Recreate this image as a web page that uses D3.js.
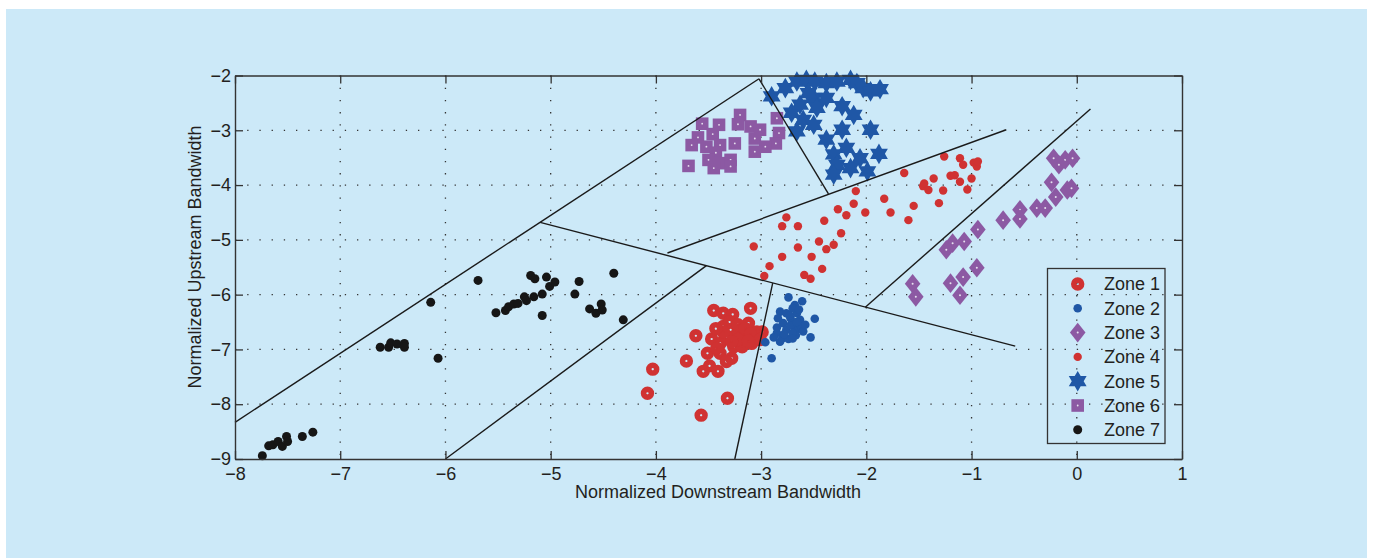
<!DOCTYPE html>
<html><head><meta charset="utf-8">
<script src="https://cdn.jsdelivr.net/npm/d3@7"></script>
<style>
html,body{margin:0;padding:0;background:#fff;}
svg{display:block;font-family:"Liberation Sans",Arial,Helvetica,sans-serif;}
</style>
</head><body>
<svg id="chart" width="1374" height="558"></svg>
<script>
// ---------- data ----------
const xTicks = [-8,-7,-6,-5,-4,-3,-2,-1,0,1];
const yTicks = [-9,-8,-7,-6,-5,-4,-3,-2];
const xLabel = "Normalized Downstream Bandwidth";
const yLabel = "Normalized Upstream Bandwidth";
const zoneNames = ["Zone 1","Zone 2","Zone 3","Zone 4","Zone 5","Zone 6","Zone 7"];

const zone1 = [[-3.45,-6.29],[-3.36,-6.34],[-3.27,-6.36],[-3.10,-6.25],[-3.62,-6.75],[-3.47,-6.81],[-3.36,-6.58],[-3.29,-6.64],[-3.20,-6.64],[-3.12,-6.52],[-3.04,-6.68],[-2.99,-6.68],[-3.17,-6.86],[-3.09,-6.89],[-3.39,-6.89],[-3.51,-7.07],[-3.39,-7.07],[-3.28,-7.16],[-3.33,-7.22],[-3.71,-7.21],[-3.49,-7.30],[-3.55,-7.40],[-3.41,-7.40],[-4.03,-7.36],[-4.08,-7.80],[-3.32,-7.89],[-3.57,-8.20],[-3.23,-6.74],[-3.14,-6.77],[-3.33,-6.77],[-3.42,-6.98],[-3.26,-6.95],[-3.06,-6.83],[-3.30,-6.50],[-3.22,-6.55],[-3.15,-6.62],[-3.05,-6.75],[-3.18,-6.95],[-3.10,-6.72],[-3.22,-6.82],[-3.36,-6.68],[-3.43,-6.62],[-3.28,-6.86],[-3.01,-6.82],[-3.12,-6.85]];
const zone2 = [[-2.74,-6.05],[-2.61,-6.12],[-2.68,-6.19],[-2.82,-6.31],[-2.76,-6.34],[-2.66,-6.34],[-2.63,-6.46],[-2.49,-6.44],[-2.69,-6.52],[-2.79,-6.52],[-2.76,-6.64],[-2.66,-6.64],[-2.85,-6.70],[-2.80,-6.80],[-2.74,-6.81],[-2.67,-6.74],[-2.53,-6.78],[-2.96,-6.87],[-2.90,-7.16],[-2.84,-6.43],[-2.72,-6.43],[-2.70,-6.25],[-2.64,-6.27],[-2.72,-6.56],[-2.62,-6.58],[-2.78,-6.72],[-2.70,-6.70],[-2.60,-6.67],[-2.85,-6.60],[-2.88,-6.78],[-2.82,-6.86],[-2.70,-6.80],[-2.58,-6.55],[-2.66,-6.50],[-2.73,-6.38]];
const zone3 = [[-0.22,-3.51],[-0.17,-3.63],[-0.11,-3.54],[-0.04,-3.51],[-0.24,-3.95],[-0.09,-4.09],[-0.05,-4.06],[-0.20,-4.22],[-0.54,-4.45],[-0.54,-4.62],[-0.38,-4.42],[-0.30,-4.42],[-0.70,-4.64],[-0.94,-4.81],[-1.07,-5.03],[-1.18,-5.06],[-1.24,-5.18],[-0.95,-5.51],[-1.08,-5.68],[-1.20,-5.79],[-1.11,-6.01],[-1.56,-5.80],[-1.53,-6.04]];
const zone4 = [[-3.07,-5.12],[-2.97,-5.66],[-2.92,-5.48],[-2.80,-5.31],[-2.80,-4.75],[-2.76,-4.59],[-2.65,-4.75],[-2.65,-5.14],[-2.59,-5.64],[-2.53,-5.71],[-2.52,-5.31],[-2.45,-5.03],[-2.42,-5.53],[-2.40,-4.65],[-2.38,-5.17],[-2.31,-5.09],[-2.24,-4.88],[-2.27,-4.44],[-2.19,-4.55],[-2.12,-4.34],[-2.10,-4.11],[-2.01,-4.50],[-1.83,-4.25],[-1.77,-4.50],[-1.64,-3.78],[-1.60,-4.64],[-1.55,-4.38],[-1.46,-4.02],[-1.45,-3.97],[-1.41,-4.09],[-1.36,-3.88],[-1.31,-4.33],[-1.27,-4.10],[-1.26,-3.48],[-1.20,-3.83],[-1.16,-3.82],[-1.11,-3.51],[-1.11,-3.94],[-1.08,-3.63],[-1.04,-4.08],[-1.00,-3.88],[-0.98,-3.59],[-0.95,-3.66],[-0.94,-3.57]];
const zone5 = [[-2.90,-2.38],[-2.77,-2.23],[-2.66,-2.11],[-2.57,-2.08],[-2.49,-2.11],[-2.38,-2.14],[-2.28,-2.11],[-2.15,-2.08],[-2.09,-2.14],[-2.03,-2.23],[-1.96,-2.29],[-1.87,-2.25],[-2.50,-2.41],[-2.38,-2.41],[-2.23,-2.56],[-2.47,-2.59],[-2.71,-2.68],[-2.60,-2.81],[-2.12,-2.72],[-2.50,-2.90],[-2.66,-3.02],[-2.23,-2.99],[-1.96,-2.99],[-2.38,-3.17],[-2.19,-3.32],[-1.88,-3.43],[-2.31,-3.44],[-2.06,-3.51],[-2.28,-3.63],[-2.15,-3.69],[-1.99,-3.75],[-2.31,-3.81],[-2.55,-2.32],[-2.63,-2.53]];
const zone6 = [[-3.56,-2.88],[-3.40,-2.90],[-3.20,-2.72],[-3.22,-2.89],[-3.10,-2.93],[-3.01,-2.99],[-2.85,-2.78],[-2.83,-3.05],[-2.86,-3.24],[-3.60,-3.13],[-3.46,-3.07],[-3.66,-3.27],[-3.39,-3.27],[-3.52,-3.30],[-3.25,-3.24],[-3.06,-3.15],[-2.96,-3.30],[-3.06,-3.39],[-3.43,-3.41],[-3.50,-3.54],[-3.40,-3.60],[-3.29,-3.54],[-3.69,-3.65],[-3.45,-3.69],[-3.29,-3.66]];
const zone7 = [[-7.74,-8.94],[-7.68,-8.76],[-7.64,-8.74],[-7.59,-8.68],[-7.55,-8.77],[-7.51,-8.59],[-7.50,-8.68],[-7.36,-8.59],[-7.26,-8.51],[-6.62,-6.96],[-6.54,-6.96],[-6.52,-6.88],[-6.46,-6.90],[-6.39,-6.89],[-6.39,-6.96],[-6.14,-6.14],[-6.07,-7.16],[-5.69,-5.74],[-5.52,-6.33],[-5.43,-6.29],[-5.40,-6.22],[-5.35,-6.17],[-5.31,-6.16],[-5.25,-6.04],[-5.23,-6.11],[-5.16,-6.04],[-5.19,-5.65],[-5.15,-5.71],[-5.08,-5.99],[-5.08,-6.38],[-5.04,-5.68],[-5.01,-5.85],[-4.96,-5.77],[-4.77,-5.99],[-4.73,-5.76],[-4.63,-6.26],[-4.57,-6.34],[-4.52,-6.17],[-4.51,-6.28],[-4.40,-5.61],[-4.31,-6.46]];
// zone boundary segments [[x1,y1],[x2,y2]]
const boundaries = [
  [[-8.00,-8.33],[-3.02,-2.06]],
  [[-3.02,-2.06],[-2.36,-4.16]],
  [[-3.89,-5.24],[-0.67,-2.99]],
  [[-5.10,-4.68],[-0.585,-6.94]],
  [[-6.00,-9.00],[-3.52,-5.47]],
  [[-3.25,-9.00],[-2.89,-5.79]],
  [[-2.01,-6.23],[0.13,-2.61]]
];

// ---------- styles ----------
const BG = "#cce9f8", INK = "#231f20";
const RED = "#d03232", BLUE = "#1f57a6", PURPLE = "#8c59a3", BLACK = "#161616";

const svg = d3.select("#chart");
svg.append("rect").attr("x",6).attr("y",9).attr("width",1361).attr("height",549).attr("fill",BG);

const x = d3.scaleLinear().domain([-8,1]).range([235,1182]);
const y = d3.scaleLinear().domain([-9,-2]).range([459,75.5]);
const [x0,x1] = x.range(), [y0,y1] = y.range();
const fmt = d3.format("d");

// grid
const grid = svg.append("g").attr("stroke","#333").attr("stroke-width",1.3).attr("stroke-dasharray","1.3,10.9");
xTicks.slice(1,-1).forEach(t=>grid.append("line").attr("x1",x(t)).attr("x2",x(t)).attr("y1",y1).attr("y2",y0));
yTicks.slice(1,-1).forEach(t=>grid.append("line").attr("x1",x0).attr("x2",x1).attr("y1",y(t)).attr("y2",y(t)));

// markers
function hexagram(R){const r=R/Math.sqrt(3);const p=[];for(let i=0;i<12;i++){const a=-Math.PI/2+i*Math.PI/6;const q=i%2?r:R;p.push([(q*Math.cos(a)).toFixed(2),(q*Math.sin(a)).toFixed(2)]);}return "M"+p.join("L")+"Z";}
function diamond(w,h){return `M0,${-h}L${w},0L0,${h}L${-w},0Z`;}
const markers = {
  "Zone 1": g=>{g.append("circle").attr("r",3.9).attr("fill","none").attr("stroke",RED).attr("stroke-width",5.6);},
  "Zone 2": g=>{g.append("circle").attr("r",4.3).attr("fill",BLUE);},
  "Zone 3": g=>{g.append("path").attr("d",diamond(7.8,9.8)).attr("fill",PURPLE);g.append("circle").attr("r",1).attr("fill","#e6e0ee");},
  "Zone 4": g=>{g.append("circle").attr("r",4.2).attr("fill",RED);},
  "Zone 5": g=>{g.append("path").attr("d",hexagram(10.3)).attr("fill",BLUE);},
  "Zone 6": g=>{g.append("rect").attr("x",-6.3).attr("y",-6.3).attr("width",12.6).attr("height",12.6).attr("fill",PURPLE);g.append("circle").attr("r",0.9).attr("fill","#e6e0ee");},
  "Zone 7": g=>{g.append("circle").attr("r",4.5).attr("fill",BLACK);}
};
const series = [zone1,zone2,zone3,zone4,zone5,zone6,zone7];
series.forEach((pts,i)=>{
  const name = zoneNames[i];
  svg.append("g").selectAll("g").data(pts).join("g")
    .attr("transform",d=>`translate(${x(d[0])},${y(d[1])})`)
    .each(function(){markers[name](d3.select(this));});
});

// boundaries
const lineGen = d3.line().x(d=>x(d[0])).y(d=>y(d[1]));
svg.append("g").selectAll("path").data(boundaries).join("path")
  .attr("d",lineGen).attr("fill","none").attr("stroke","#1a1a1a").attr("stroke-width",1.4);

// axes
function styleAxis(g){
  g.attr("font-size",18).attr("font-family",null);
  g.select(".domain").attr("stroke","#333").attr("stroke-width",1.4);
  g.selectAll(".tick line").attr("stroke","#333").attr("stroke-width",1.3);
  g.selectAll(".tick text").attr("fill",INK);
}
svg.append("g").attr("transform",`translate(0,${y0})`)
  .call(d3.axisBottom(x).tickValues(xTicks).tickFormat(fmt).tickSize(-8).tickSizeOuter(0).tickPadding(8)).call(styleAxis);
svg.append("g").attr("transform",`translate(0,${y1})`)
  .call(d3.axisTop(x).tickValues(xTicks).tickSize(-8).tickSizeOuter(0).tickFormat("")).call(styleAxis);
svg.append("g").attr("transform",`translate(${x0},0)`)
  .call(d3.axisLeft(y).tickValues(yTicks).tickFormat(fmt).tickSize(-8).tickSizeOuter(0).tickPadding(4)).call(styleAxis);
svg.append("g").attr("transform",`translate(${x1},0)`)
  .call(d3.axisRight(y).tickValues(yTicks).tickSize(-8).tickSizeOuter(0).tickFormat("")).call(styleAxis);

// axis labels
svg.append("text").attr("x",718).attr("y",498).attr("text-anchor","middle").attr("font-size",18).attr("fill",INK).text(xLabel);
svg.append("text").attr("transform","translate(201,257) rotate(-90)").attr("text-anchor","middle").attr("font-size",18).attr("fill",INK).text(yLabel);

// legend
const leg = svg.append("g");
leg.append("rect").attr("x",1047.5).attr("y",268.5).attr("width",117.5).attr("height",175).attr("fill","none").attr("stroke","#333").attr("stroke-width",1.3);
zoneNames.forEach((name,i)=>{
  const cy = 284 + i*24.3;
  const g = leg.append("g").attr("transform",`translate(1077.7,${cy})`);
  markers[name](g);
  leg.append("text").attr("x",1104).attr("y",cy).attr("dy","0.35em").attr("font-size",18).attr("fill",INK).text(name);
});
</script>
</body></html>
